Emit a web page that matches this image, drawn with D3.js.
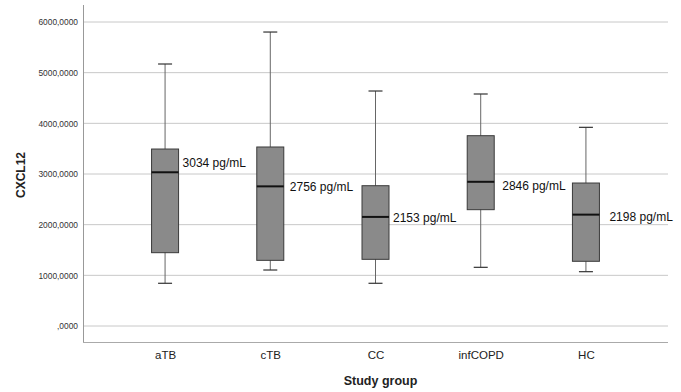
<!DOCTYPE html>
<html>
<head>
<meta charset="utf-8">
<script src="https://cdn.jsdelivr.net/npm/d3@7"></script>
<style>
  body { margin: 0; background: #fff; }
  svg text { font-family: "Liberation Sans", Arial, sans-serif; }
</style>
</head>
<body>
<div id="canvas"></div>
<script>
const groups = ['aTB', 'cTB', 'CC', 'infCOPD', 'HC'];
const whiskerLow = [843, 1105, 843, 1158, 1072];
const q1 = [1447, 1296, 1316, 2296, 1277];
const median = [3034, 2756, 2153, 2846, 2198];
const q3 = [3493, 3533, 2769, 3756, 2822];
const whiskerHigh = [5171, 5802, 4638, 4579, 3921];
const labels = ['3034 pg/mL', '2756 pg/mL', '2153 pg/mL', '2846 pg/mL', '2198 pg/mL'];
const labelAt = [3223, 2749, 2145, 2770, 2150];
const yTicks = [0, 1000, 2000, 3000, 4000, 5000, 6000];

const W = 681, H = 392;
const plotL = 83, plotR = 668, plotT = 5, plotB = 342;

const svg = d3.select('#canvas').append('svg')
  .attr('width', W).attr('height', H);

const x = d3.scalePoint().domain(groups).range([plotL, plotR]).padding(0.78);
const y = d3.scaleLinear().domain([0, 6000]).range([326, 22]);

const fmt = v => (v === 0 ? '' : String(v)) + ',0000';

// gridlines
svg.append('g')
  .selectAll('line')
  .data(yTicks)
  .enter()
  .append('line')
  .attr('x1', plotL).attr('x2', plotR)
  .attr('y1', d => y(d)).attr('y2', d => y(d))
  .attr('stroke', '#c8c8c8')
  .attr('stroke-width', 1);

// y axis
const yAxis = svg.append('g')
  .attr('transform', `translate(${plotL},0)`)
  .call(d3.axisLeft(y).tickValues(yTicks).tickFormat(fmt).tickSize(0).tickPadding(5));
yAxis.select('.domain').remove();
yAxis.selectAll('text').attr('font-size', 8.4).attr('fill', '#333');

// frame lines
svg.append('line')
  .attr('x1', plotL + 0.5).attr('x2', plotL + 0.5)
  .attr('y1', plotT).attr('y2', plotB)
  .attr('stroke', '#999');
svg.append('line')
  .attr('x1', plotL).attr('x2', plotR)
  .attr('y1', plotB + 0.5).attr('y2', plotB + 0.5)
  .attr('stroke', '#aaa');

// x axis labels
const xAxis = svg.append('g')
  .attr('transform', `translate(0,${plotB})`)
  .call(d3.axisBottom(x).tickSize(0).tickPadding(9));
xAxis.select('.domain').remove();
xAxis.selectAll('text').attr('font-size', 11.5).attr('fill', '#222');

// axis titles
svg.append('text')
  .attr('x', (plotL + plotR) / 2 + 5).attr('y', 385)
  .attr('text-anchor', 'middle')
  .attr('font-size', 12.5).attr('font-weight', 'bold').attr('fill', '#222')
  .text('Study group');
svg.append('text')
  .attr('transform', 'translate(25,175) rotate(-90)')
  .attr('text-anchor', 'middle')
  .attr('font-size', 12).attr('font-weight', 'bold').attr('fill', '#222')
  .text('CXCL12');

const data = groups.map((g, i) => ({
  g, lo: whiskerLow[i], q1: q1[i], med: median[i], q3: q3[i], hi: whiskerHigh[i],
  label: labels[i], la: labelAt[i]
}));

const boxW = 27, capW = 14;
const labelDx = [4, 6, 4, 8, 10];

const box = svg.selectAll('g.box')
  .data(data)
  .enter()
  .append('g')
  .attr('class', 'box');

box.append('line')
  .attr('x1', d => x(d.g)).attr('x2', d => x(d.g))
  .attr('y1', d => y(d.hi)).attr('y2', d => y(d.lo))
  .attr('stroke', '#666').attr('stroke-width', 1);

box.append('line')
  .attr('x1', d => x(d.g) - capW / 2).attr('x2', d => x(d.g) + capW / 2)
  .attr('y1', d => y(d.hi)).attr('y2', d => y(d.hi))
  .attr('stroke', '#333').attr('stroke-width', 1.2);
box.append('line')
  .attr('x1', d => x(d.g) - capW / 2).attr('x2', d => x(d.g) + capW / 2)
  .attr('y1', d => y(d.lo)).attr('y2', d => y(d.lo))
  .attr('stroke', '#333').attr('stroke-width', 1.2);

box.append('rect')
  .attr('x', d => x(d.g) - boxW / 2)
  .attr('y', d => y(d.q3))
  .attr('width', boxW)
  .attr('height', d => y(d.q1) - y(d.q3))
  .attr('fill', '#8a8a8a')
  .attr('stroke', '#3a3a3a').attr('stroke-width', 1);

box.append('line')
  .attr('x1', d => x(d.g) - boxW / 2).attr('x2', d => x(d.g) + boxW / 2)
  .attr('y1', d => y(d.med)).attr('y2', d => y(d.med))
  .attr('stroke', '#111').attr('stroke-width', 2);

box.append('text')
  .attr('x', (d, i) => x(d.g) + boxW / 2 + labelDx[i])
  .attr('y', d => y(d.la))
  .attr('dy', '0.35em')
  .attr('font-size', 12)
  .attr('fill', '#111')
  .text(d => d.label);
</script>
</body>
</html>
